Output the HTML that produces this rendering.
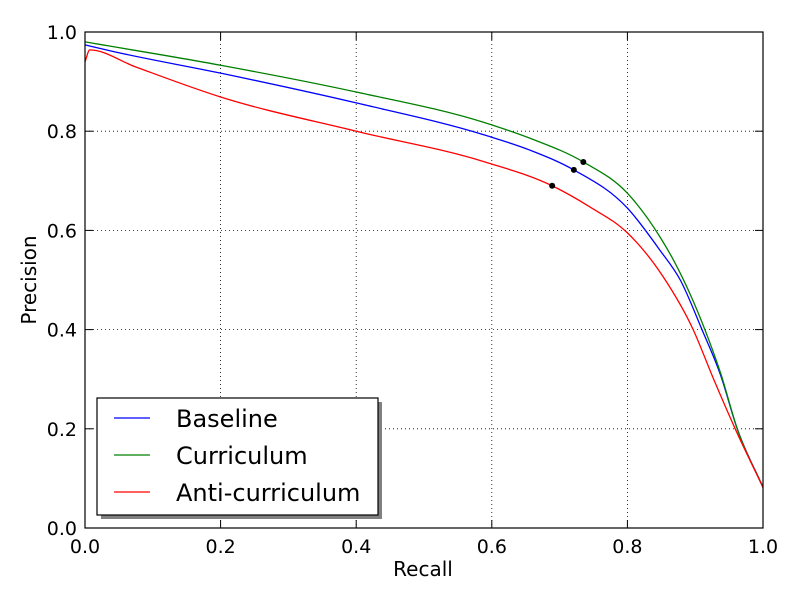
<!DOCTYPE html>
<html><head><meta charset="utf-8"><style>
body{margin:0;background:#fff}
svg{display:block;font-family:"DejaVu Sans","Liberation Sans",sans-serif}
</style></head><body>
<svg id="chart" width="800" height="600">
<rect x="0" y="0" width="800" height="600" fill="#fff"/>
<g id="grid"></g>
<g id="series"></g>
<rect x="85" y="32" width="678" height="496" fill="none" stroke="#000" stroke-width="1.2"/>
<g id="ticks"></g>
<text x="423" y="576" font-size="20" text-anchor="middle">Recall</text>
<text transform="translate(36,280) rotate(-90)" font-size="20" text-anchor="middle">Precision</text>
<g>
<rect x="101" y="402" width="281" height="117" fill="#808080"/>
<rect x="97" y="398" width="281" height="117" fill="#fff" stroke="#000" stroke-width="1.2"/>
<g><line x1="114" y1="418" x2="150" y2="418" stroke="#0000ff" stroke-width="1.2"/><text x="176" y="427" font-size="24">Baseline</text></g>
<g><line x1="114" y1="455" x2="150" y2="455" stroke="#008000" stroke-width="1.2"/><text x="176" y="464" font-size="24">Curriculum</text></g>
<g><line x1="114" y1="492" x2="150" y2="492" stroke="#ff0000" stroke-width="1.2"/><text x="176" y="501" font-size="24">Anti-curriculum</text></g>
</g>
</svg>
<script>
const recallBaseline=[0,0.044,0.2,0.4,0.59,0.656,0.721,0.80,0.848,0.878,0.910,0.937,0.962,1.0];
const precBaseline=[0.974,0.96,0.917,0.857,0.792,0.762,0.722,0.645,0.56,0.50,0.40,0.31,0.20,0.082];
const recallCurr=[0,0.2,0.4,0.59,0.656,0.735,0.80,0.848,0.870,0.914,0.938,0.962,1.0];
const precCurr=[0.98,0.933,0.879,0.817,0.786,0.738,0.675,0.587,0.535,0.401,0.31,0.20,0.082];
const recallAnti=[0,0.007,0.074,0.2,0.4,0.59,0.689,0.745,0.80,0.853,0.897,0.926,0.959,1.0];
const precAnti=[0.94,0.964,0.93,0.869,0.80,0.738,0.69,0.647,0.595,0.506,0.40,0.304,0.20,0.082];
const dotRecall=[0.721,0.735,0.689];
const dotPrec=[0.722,0.738,0.69];
const xTicks=[0,0.2,0.4,0.6,0.8,1.0];
const yTicks=[0,0.2,0.4,0.6,0.8,1.0];
const NS='http://www.w3.org/2000/svg';
const X=v=>85+v*678, Y=v=>528-v*496;
const mk=(t,a)=>{const e=document.createElementNS(NS,t);for(const k in a)e.setAttribute(k,a[k]);return e;};
const grid=document.getElementById('grid'),ticks=document.getElementById('ticks'),ser=document.getElementById('series');
xTicks.forEach(v=>{
 if(v>0&&v<1){const g=mk('line',{x1:X(v),x2:X(v),y1:32,y2:528,stroke:'#000','stroke-dasharray':'1,3','stroke-width':0.8});
 
 grid.appendChild(g);}
 ticks.appendChild(mk('line',{x1:X(v),x2:X(v),y1:528,y2:520,stroke:'#000'}));
 ticks.appendChild(mk('line',{x1:X(v),x2:X(v),y1:32,y2:40,stroke:'#000'}));
 const t=mk('text',{x:X(v),y:553,'font-size':19,'text-anchor':'middle'});t.textContent=v.toFixed(1);
 
 ticks.appendChild(t);
});
yTicks.forEach(v=>{
 if(v>0&&v<1){const g=mk('line',{x1:85,x2:763,y1:Y(v),y2:Y(v),stroke:'#000','stroke-dasharray':'1,3','stroke-width':0.8});
 
 grid.appendChild(g);}
 ticks.appendChild(mk('line',{x1:85,x2:93,y1:Y(v),y2:Y(v),stroke:'#000'}));
 ticks.appendChild(mk('line',{x1:755,x2:763,y1:Y(v),y2:Y(v),stroke:'#000'}));
 const t=mk('text',{x:77,y:Y(v)+7,'font-size':19,'text-anchor':'end'});t.textContent=v.toFixed(1);
 
 ticks.appendChild(t);
});
function smooth(xs,ys){
 const px=xs.map(X),py=ys.map(Y),n=px.length;
 const d=[],m=new Array(n);
 for(let i=0;i<n-1;i++)d.push((py[i+1]-py[i])/(px[i+1]-px[i]));
 m[0]=d[0];m[n-1]=d[n-2];
 for(let i=1;i<n-1;i++){const h0=px[i]-px[i-1],h1=px[i+1]-px[i];m[i]=(d[i-1]*d[i]<=0)?0:(d[i-1]*h1+d[i]*h0)/(h0+h1);}
 let p='M'+px[0]+','+py[0];
 for(let i=0;i<n-1;i++){const h=(px[i+1]-px[i])/3;
  p+=' C'+(px[i]+h)+','+(py[i]+m[i]*h)+' '+(px[i+1]-h)+','+(py[i+1]-m[i+1]*h)+' '+px[i+1]+','+py[i+1];}
 return p;}
[[recallBaseline,precBaseline,'#0000ff','baseline-line'],[recallCurr,precCurr,'#008000','curriculum-line'],[recallAnti,precAnti,'#ff0000','anti-curriculum-line']].forEach(s=>{
 const p=mk('path',{d:smooth(s[0],s[1]),fill:'none',stroke:s[2],'stroke-width':1.3});
 
 ser.appendChild(p);
});
dotRecall.forEach((r,i)=>{const c=mk('circle',{cx:X(r),cy:Y(dotPrec[i]),r:3,fill:'#000'});
 
 ser.appendChild(c);});
</script>
</body></html>
